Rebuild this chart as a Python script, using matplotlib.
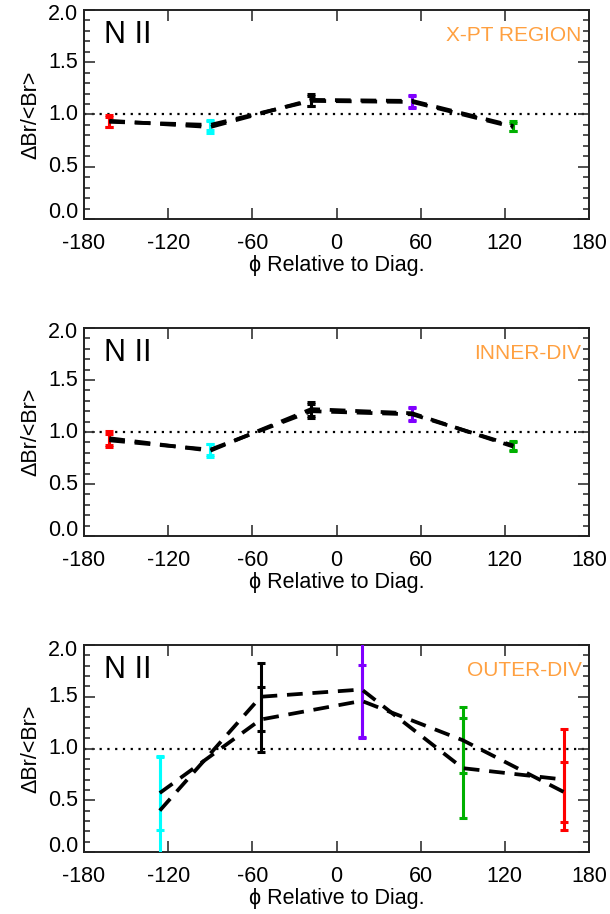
import matplotlib
matplotlib.use("Agg")
import matplotlib.pyplot as plt
import matplotlib.transforms as mtransforms
from matplotlib.ticker import MultipleLocator

plt.rcParams['font.family'] = ['Liberation Sans', 'DejaVu Sans']

# ---- data ----
titles = ["X-PT REGION", "INNER-DIV", "OUTER-DIV"]
species = "N II"
point_colors_12 = ["#FF0000", "#00FFFF", "#000000", "#8000FF", "#00B000"]
point_colors_3 = ["#00FFFF", "#000000", "#8000FF", "#00B000", "#FF0000"]

phi_12 = [-162, -90, -18, 54, 126]
phi_3 = [-126, -54, 18, 90, 162]

# panel 1 (X-PT REGION)
p1_a = [0.94, 0.88, 1.14, 1.13, 0.89]
p1_a_err = [0.055, 0.06, 0.06, 0.06, 0.045]
p1_b = [0.93, 0.90, 1.13, 1.12, 0.88]
p1_b_err = [0.05, 0.05, 0.05, 0.055, 0.04]

# panel 2 (INNER-DIV)
p2_a = [0.94, 0.82, 1.22, 1.18, 0.86]
p2_a_err = [0.065, 0.06, 0.07, 0.065, 0.045]
p2_b = [0.92, 0.83, 1.20, 1.17, 0.87]
p2_b_err = [0.06, 0.05, 0.07, 0.06, 0.04]

# panel 3 (OUTER-DIV)
p3_a = [0.40, 1.50, 1.57, 0.81, 0.70]
p3_a_err = [0.52, 0.33, 0.47, 0.48, 0.49]
p3_b = [0.57, 1.28, 1.46, 1.08, 0.58]
p3_b_err = [0.36, 0.31, 0.35, 0.32, 0.29]

xticks = [-180, -120, -60, 0, 60, 120, 180]
yticks = [0.0, 0.5, 1.0, 1.5, 2.0]

panels = [
    (phi_12, point_colors_12, p1_a, p1_a_err, p1_b, p1_b_err, titles[0]),
    (phi_12, point_colors_12, p2_a, p2_a_err, p2_b, p2_b_err, titles[1]),
    (phi_3, point_colors_3, p3_a, p3_a_err, p3_b, p3_b_err, titles[2]),
]

fig = plt.figure(figsize=(6.10, 9.14), dpi=100)
W, H = 610.0, 914.0
left, right = 84, 589
tops_bottoms = [(10, 219), (328, 536), (645, 852)]

orange = "#FFA040"

for (phi, cols, a, ae, b, be, title), (top, bot) in zip(panels, tops_bottoms):
    ax = fig.add_axes([left / W, 1 - bot / H, (right - left) / W, (bot - top) / H])
    ax.set_xlim(-180, 180)
    ax.set_ylim(0, 2.0)
    ax.axhline(1.0, color="black", linestyle=(0, (1, 2.5)), linewidth=1.6, zorder=1)
    for vals, errs in ((a, ae), (b, be)):
        for x, v, e, c in zip(phi, vals, errs, cols):
            ax.errorbar([x], [v], yerr=[e], fmt="none", ecolor=c, elinewidth=2.2,
                        capsize=3, capthick=2.2, zorder=3)
    for vals in (a, b):
        ax.plot(phi, vals, color="black", linestyle=(0, (4.2, 2.6)), linewidth=2.7, zorder=4)

    ax.set_xticks(xticks)
    ax.set_xticklabels([str(t) for t in xticks])
    ax.set_yticks(yticks)
    ax.set_yticklabels(["%.1f" % t for t in yticks])
    ax.yaxis.set_minor_locator(MultipleLocator(0.1))
    ax.tick_params(axis="both", which="both", direction="in", top=True, right=True,
                   labelsize=15.5, width=1.2, color="#333333")
    ax.tick_params(axis="both", which="major", length=8)
    ax.tick_params(axis="x", which="major", pad=10)
    ax.tick_params(axis="y", which="major", pad=4)
    ax.tick_params(axis="y", which="minor", length=4)
    ylabs = ax.get_yticklabels()
    for lab in ylabs:
        lab.set_verticalalignment("center")
    # IDL-style: end labels kept inside the box
    ylabs[0].set_transform(ylabs[0].get_transform() +
                           mtransforms.ScaledTranslation(0, 6 / 100, fig.dpi_scale_trans))
    ylabs[-1].set_transform(ylabs[-1].get_transform() +
                            mtransforms.ScaledTranslation(0, -5 / 100, fig.dpi_scale_trans))
    for s in ax.spines.values():
        s.set_linewidth(1.4)
        s.set_color("#222222")
    ax.set_xlabel("ϕ Relative to Diag.", fontsize=15.5, labelpad=1)
    ax.set_ylabel("ΔBr/<Br>", fontsize=15.5, labelpad=5)
    ax.text(0.04, 0.95, species, transform=ax.transAxes, fontsize=22,
            ha="left", va="top", color="black")
    ax.text(0.985, 0.925, title, transform=ax.transAxes, fontsize=15,
            ha="right", va="top", color=orange)

fig.savefig("out.png", dpi=100)
